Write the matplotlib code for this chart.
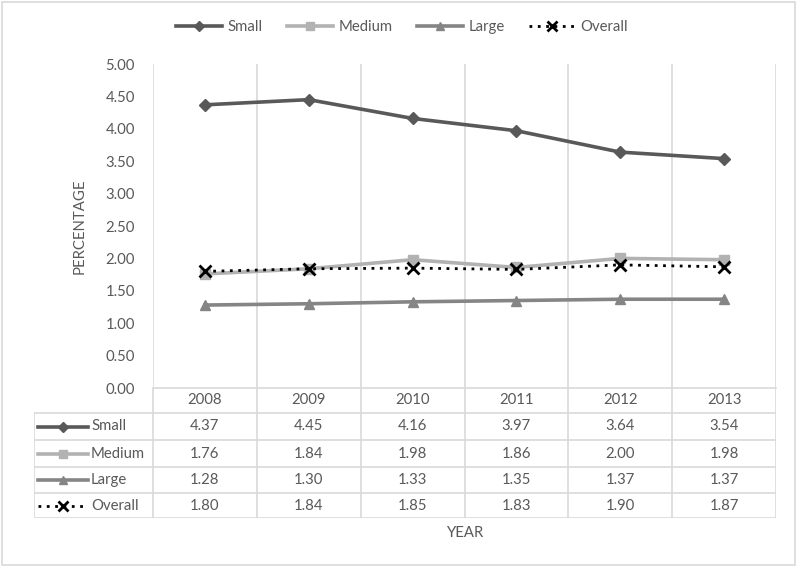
import matplotlib
matplotlib.use("Agg")
import matplotlib.pyplot as plt
from matplotlib.lines import Line2D
from matplotlib.patches import Rectangle

plt.rcParams['font.family'] = ['Lato', 'DejaVu Sans']

years = ["2008", "2009", "2010", "2011", "2012", "2013"]
small = [4.37, 4.45, 4.16, 3.97, 3.64, 3.54]
medium = [1.76, 1.84, 1.98, 1.86, 2.00, 1.98]
large = [1.28, 1.30, 1.33, 1.35, 1.37, 1.37]
overall = [1.80, 1.84, 1.85, 1.83, 1.90, 1.87]
series_names = ["Small", "Medium", "Large", "Overall"]
y_ticks = [0.0, 0.5, 1.0, 1.5, 2.0, 2.5, 3.0, 3.5, 4.0, 4.5, 5.0]

TXT = "#595959"
GRID = "#d9d9d9"
FS = 10.7
styles = {
    "Small": dict(color="#595959", lw=2.6, ls="-", marker="D", ms=6.5, mfc="#595959", mec="#595959"),
    "Medium": dict(color="#b2b2b2", lw=2.6, ls="-", marker="s", ms=6.5, mfc="#b2b2b2", mec="#b2b2b2"),
    "Large": dict(color="#858585", lw=2.6, ls="-", marker="^", ms=7, mfc="#858585", mec="#858585"),
    "Overall": dict(color="black", lw=2.0, ls=(0, (1, 2)), marker="x", ms=8, mew=2, mfc="black", mec="black"),
}
data = {"Small": small, "Medium": medium, "Large": large, "Overall": overall}

W, H = 800, 569
fig = plt.figure(figsize=(8, 5.69), dpi=100)

def px(l, t, r, b):
    return [l / W, 1 - b / H, (r - l) / W, (b - t) / H]

L, R, T, B = 153, 776, 64, 388
ax = fig.add_axes(px(L, T, R, B))
n = len(years)
x = list(range(n))
for name in series_names:
    ax.plot(x, data[name], label=name, zorder=3, **styles[name])

ax.set_xlim(-0.5, n - 0.5)
ax.set_ylim(0, 5)
ax.set_yticks(y_ticks)
ax.set_yticklabels([f"{v:.2f}" for v in y_ticks], color=TXT, fontsize=FS)
ax.tick_params(axis="y", length=0, pad=13)
ax.set_xticks([i - 0.5 for i in range(n + 1)])
ax.set_xticklabels([])
ax.tick_params(axis="x", length=0)
ax.grid(axis="x", color=GRID, lw=1.2)
for s in ["top", "right", "left"]:
    ax.spines[s].set_visible(False)
ax.spines["bottom"].set_color(GRID)
ax.spines["bottom"].set_linewidth(1.2)
ax.set_ylabel("PERCENTAGE", color=TXT, fontsize=FS, labelpad=14)

# Data table
TL = 34
TB = 518
axt = fig.add_axes(px(TL, B, R, TB))
unit = (R - L) / n
axt.set_xlim(-0.5 - (L - TL) / unit, n - 0.5)
axt.set_ylim(0, TB - B)
axt.axis("off")
xl = -0.5 - (L - TL) / unit
rows = [(B, 413), (413, 440), (440, 467), (467, 493), (493, 518)]
def yy(p):
    return TB - p
lk = dict(color=GRID, lw=1.2, solid_capstyle="butt")
for i in range(n + 1):
    axt.plot([i - 0.5, i - 0.5], [yy(B), yy(TB)], **lk)
axt.plot([xl, xl], [yy(413), yy(TB)], **lk)
for r in rows[1:]:
    axt.plot([xl, n - 0.5], [yy(r[0]), yy(r[0])], **lk)
axt.plot([xl, n - 0.5], [yy(TB), yy(TB)], **lk)
hy = (yy(rows[0][0]) + yy(rows[0][1])) / 2
for i, yr in enumerate(years):
    axt.text(i, hy, yr, ha="center", va="center", color=TXT, fontsize=FS)
for k, name in enumerate(series_names):
    r0, r1 = rows[k + 1]
    cy = (yy(r0) + yy(r1)) / 2
    for i, v in enumerate(data[name]):
        axt.text(i, cy, f"{v:.2f}", ha="center", va="center", color=TXT, fontsize=FS)
    x0 = xl + 4 / unit
    x1 = xl + 54 / unit
    st = dict(styles[name])
    mk = st.pop("marker"); ms = st.pop("ms")
    mew = st.pop("mew", 1.0)
    mfc = st.pop("mfc"); mec = st.pop("mec")
    axt.plot([x0, x1], [cy, cy], color=st["color"], lw=st["lw"], ls=st["ls"])
    axt.plot([(x0 + x1) / 2], [cy], marker=mk, ms=ms * 0.85, mew=mew, mfc=mfc, mec=mec, ls="none")
    axt.text(xl + 57 / unit, cy, name, ha="left", va="center", color=TXT, fontsize=FS)

fig.text(465 / W, 1 - 533 / H, "YEAR", ha="center", va="center", color=TXT, fontsize=FS)

handles = []
for name in series_names:
    st = dict(styles[name])
    handles.append(Line2D([], [], color=st["color"], lw=st["lw"], ls=st["ls"], marker=st["marker"],
                          ms=st["ms"] * 0.85, mew=st.get("mew", 1.0), mfc=st["mfc"], mec=st["mec"]))
leg = fig.legend(handles, series_names, loc="center", bbox_to_anchor=(402 / W, 1 - 27 / H), ncol=4,
                 frameon=False, fontsize=FS, handlelength=3.1, columnspacing=1.6, handletextpad=0.4,
                 labelcolor=TXT)

fig.patches.append(Rectangle((2 / W, 1 - 565 / H), 793 / W, 563 / H, transform=fig.transFigure,
                             fill=False, edgecolor=GRID, lw=1.2))

fig.savefig("out.png", dpi=100)
